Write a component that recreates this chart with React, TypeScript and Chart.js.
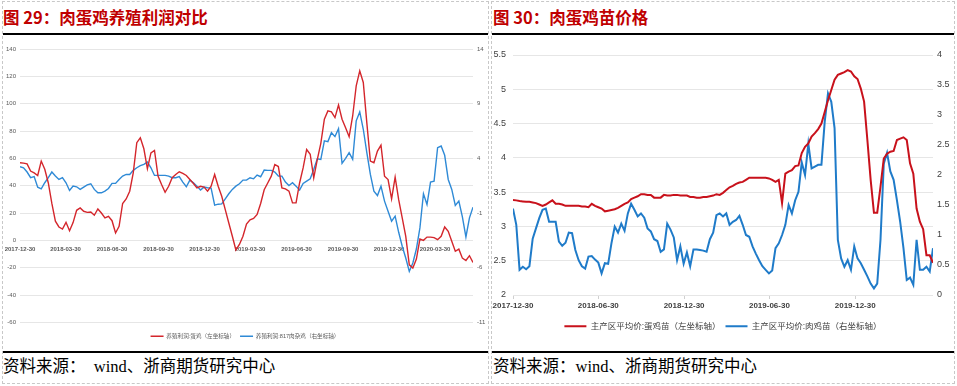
import React, { useEffect, useRef } from 'react';
import { Chart, registerables } from 'chart.js';

Chart.register(...registerables);

// ---------- data ----------
const START_DATE = '2017-12-30';
const WEEK_DAYS = 7;
const X_MAX_DAYS = 896;

// Figure 29
const profitDateTicks = [
  '2017-12-30', '2018-03-30', '2018-06-30', '2018-09-30', '2018-12-30',
  '2019-03-30', '2019-06-30', '2019-09-30', '2019-12-30', '2020-03-30',
];
const profitLeftTicks = [-60, -40, -20, 0, 20, 40, 60, 80, 100, 120, 140];
const profitRightTicks = [-11, -6, -1, 4, 9, 14];

const eggProfit = [
  56.8, 56.5, 56, 50.7, 49.4, 47.5, 58, 52, 42, 27,
  14, 9.8, 8.3, 13.2, 7, 13, 22, 23.7, 21.3, 20.5,
  20.8, 18.4, 23, 20, 16.4, 17.6, 14.4, 5.4, 10.3, 27,
  30.3, 36, 49.4, 71.5, 75.1, 67, 52.4, 64, 65.8, 47,
  40.9, 35.2, 39.6, 45.8, 48.2, 50.2, 49, 47.5, 44.5, 41.6,
  38.4, 39.6, 39, 36, 39.6, 48.2, 39.6, 32.3, 22.5, 12.7,
  3, -7, -3, 3, 12, 15, 16, 19, 27, 37,
  42, 47, 55.5, 54, 38.4, 37.7, 36, 27.4, 27.4, 42,
  53, 66.5, 63, 45.7, 59, 71, 88.6, 94.7, 94, 89.8,
  99, 88.6, 82.4, 75.8, 91, 113, 124, 115.5, 86, 58,
  56.8, 65.3, 69.7, 47, 44.5, 30.3, 46.2, 29.8, 16.4, 2.9,
  -17.9, -20.3, -13.7, 1, 0, 2.4, 2.4, 2, 0.5, 3,
  9.8, 6.6, -0.7, -8, -6.4, -13, -14.7, -11.2, -16.1,
];

const broilerProfit = [
  3.24, 3.14, 2.75, 2.23, 2.33, 1.37, 1.22, 1.77, 2.23, 2.75,
  2.38, 2.07, 2.23, 1.77, 1.06, 1.46, 1.4, 1.16, 1.37, 1.58,
  1.68, 1.16, 0.85, 0.85, 1.0, 1.25, 1.71, 1.71, 2.07, 2.38,
  2.53, 2.53, 2.9, 3.14, 3.33, 3.45, 3.66, 3.14, 2.44, 2.44,
  2.44, 2.44, 2.38, 2.23, 2.23, 2.33, 1.83, 1.4, 2.01, 1.77,
  1.46, 1.1, 1.37, 1.31, 1.28, -0.28, -0.19, -0.16, 0.3, 0.76,
  1.16, 1.46, 1.68, 2.01, 2.01, 2.23, 2.13, 2.47, 2.32, 2.93,
  2.9, 2.9, 2.75, 2.38, 2.38, 1.83, 1.52, 1.77, 1.46, 1.1,
  1.71, 1.92, 2.13, 2.99, 3.97, 3.91, 5.6, 5.53, 6.35, 5.99,
  6.72, 3.54, 4.0, 4.52, 3.91, 7.43, 8.25, 6.66, 4.52, 2.53,
  1.0, 0.6, 1.46, 0.09, -0.83, -1.75, -1.29, -2.76, -4.04, -5.11,
  -6.34, -5.57, -4.29, -2.36, 0.76, -0.22, 1.83, 1.92, 4.98, 5.13,
  4.28, 2.07, 1.16, -0.31, 0.09, -1.35, -3.19, -1.44, -0.46,
];

// Figure 30
const priceDateTicks = ['2017-12-30', '2018-06-30', '2018-12-30', '2019-06-30', '2019-12-30'];
const priceLeftTicks = [2, 2.5, 3, 3.5, 4, 4.5, 5, 5.5];
const priceRightTicks = [0, 0.5, 1, 1.5, 2, 2.5, 3, 3.5, 4];

const eggChickPrice = [
  3.385, 3.38, 3.37, 3.365, 3.36, 3.36, 3.35, 3.34, 3.32, 3.3,
  3.32, 3.35, 3.38, 3.33, 3.33, 3.32, 3.3, 3.3, 3.3, 3.3,
  3.3, 3.29, 3.29, 3.28, 3.33, 3.3, 3.28, 3.26, 3.22, 3.23,
  3.24, 3.25, 3.27, 3.3, 3.33, 3.35, 3.4, 3.42, 3.44, 3.47,
  3.47, 3.46, 3.46, 3.42, 3.42, 3.42, 3.46, 3.45, 3.45, 3.46,
  3.46, 3.45, 3.45, 3.45, 3.43, 3.43, 3.42, 3.42, 3.43, 3.43,
  3.44, 3.45, 3.47, 3.46, 3.49, 3.53, 3.57, 3.59, 3.62, 3.64,
  3.65, 3.68, 3.71, 3.71, 3.71, 3.71, 3.71, 3.71, 3.7, 3.68,
  3.65, 3.68, 3.34, 3.77, 3.8, 3.82, 3.88, 3.89, 4.07, 4.16,
  4.21, 4.31, 4.36, 4.42, 4.5, 4.67, 4.84, 4.99, 5.14, 5.21,
  5.23, 5.25, 5.28, 5.26, 5.19, 5.15, 5.01, 4.82, 4.26, 3.68,
  3.2, 3.2, 3.58, 3.99, 4.06, 4.09, 4.1, 4.26, 4.28, 4.3,
  4.26, 3.92, 3.77, 3.26, 3.07, 2.96, 2.58, 2.58, 2.47,
];

const broilerChickPrice = [
  1.44, 1.17, 0.42, 0.47, 0.43, 0.48, 0.94, 1.11, 1.28, 1.42,
  1.44, 1.22, 1.22, 1.22, 0.89, 0.82, 0.87, 1.04, 1.03, 0.75,
  0.58, 0.48, 0.44, 0.64, 0.65, 0.59, 0.54, 0.36, 0.53, 0.52,
  0.86, 1.14, 1.04, 1.19, 1.07, 1.36, 1.52, 1.42, 1.31, 1.36,
  1.29, 1.11, 1.06, 0.93, 0.9, 0.72, 0.76, 1.19, 1.09, 0.96,
  0.58, 0.81, 0.52, 0.71, 0.48, 0.76, 0.76, 0.75, 0.74, 0.72,
  0.93, 1.04, 1.33, 1.36, 1.31, 1.36, 1.17, 1.22, 1.25, 1.32,
  1.17, 1.0, 0.97, 0.81, 0.69, 0.58, 0.48, 0.42, 0.36, 0.41,
  0.78, 0.86, 1.0, 1.17, 1.5, 1.36, 1.58, 1.72, 2.21, 2.0,
  2.52, 2.11, 2.14, 2.17, 2.17, 2.89, 3.36, 3.22, 2.78, 0.92,
  0.61, 0.47, 0.58, 0.42, 0.81, 0.61, 0.53, 0.42, 0.31, 0.19,
  0.11, 0.19, 0.92, 2.19, 2.37, 2.06, 1.92, 1.58, 1.22, 0.78,
  0.25, 0.29, 0.17, 0.92, 0.42, 0.42, 0.47, 0.39, 0.78,
];

// ---------- helpers ----------
const FONT = '"Liberation Sans", "Noto Sans CJK SC", Arial, sans-serif';

function dayOffset(label: string): number {
  return Math.round((Date.parse(label) - Date.parse(START_DATE)) / 86400000);
}

function weekly(values: number[]) {
  return values.map((v, i) => ({ x: i * WEEK_DAYS, y: v }));
}

function fixedTicks(values: number[]) {
  return (scale: any) => {
    scale.ticks = values.map((v) => ({ value: v }));
  };
}

function fixedWidth(w: number) {
  return (scale: any) => {
    scale.width = w;
    scale.paddingTop = 0;
    scale.paddingBottom = 0;
  };
}

function fixedHeight(h: number) {
  return (scale: any) => {
    scale.height = h;
    scale.paddingLeft = 0;
    scale.paddingRight = 0;
  };
}

const plainNumber = (v: any) => String(v);

function useChart(ref: React.RefObject<HTMLCanvasElement>, build: () => any) {
  useEffect(() => {
    if (!ref.current) return;
    const chart = new Chart(ref.current, build());
    return () => chart.destroy();
  }, []);
}

// ---------- charts ----------
function ProfitChart() {
  const ref = useRef<HTMLCanvasElement>(null);
  useChart(ref, () => {
    const tickColor = '#595959';
    return {
      type: 'line',
      data: {
        datasets: [
          {
            label: '养殖利润:蛋鸡（左坐标轴）',
            data: weekly(eggProfit),
            borderColor: '#d4262c',
            backgroundColor: '#d4262c',
            borderWidth: 1.4,
            pointRadius: 0,
            tension: 0,
            yAxisID: 'y',
          },
          {
            label: '养殖利润:817肉杂鸡（右坐标轴）',
            data: weekly(broilerProfit),
            borderColor: '#2f8ad6',
            backgroundColor: '#2f8ad6',
            borderWidth: 1.4,
            pointRadius: 0,
            tension: 0,
            yAxisID: 'y1',
          },
        ],
      },
      options: {
        animation: false,
        responsive: false,
        events: [],
        layout: { padding: { top: 13, left: 0, right: 0, bottom: 0 } },
        plugins: {
          tooltip: { enabled: false },
          legend: {
            position: 'bottom',
            title: { display: true, text: ' ', padding: 0, font: { size: 6, lineHeight: 1 } },
            labels: {
              usePointStyle: true,
              pointStyle: 'line',
              pointStyleWidth: 13,
              padding: 5,
              color: tickColor,
              font: { size: 5.6, family: FONT },
            },
          },
        },
        scales: {
          x: {
            type: 'linear',
            position: { y: 0 },
            min: 0,
            max: X_MAX_DAYS,
            grid: { display: false, drawTicks: false },
            border: { display: false },
            afterBuildTicks: fixedTicks(profitDateTicks.map(dayOffset)),
            afterFit: fixedHeight(0),
            ticks: {
              autoSkip: false,
              maxRotation: 0,
              padding: 5,
              color: tickColor,
              font: { size: 6, weight: 'bold', family: FONT },
              callback: (_v: any, i: number) => profitDateTicks[i],
            },
          },
          y: {
            position: 'left',
            min: -60,
            max: 140,
            afterBuildTicks: fixedTicks(profitLeftTicks),
            afterFit: fixedWidth(17),
            grid: { color: '#e6e6e6', drawTicks: false },
            border: { display: false },
            ticks: { padding: 4, color: tickColor, font: { size: 6, family: FONT }, callback: plainNumber },
          },
          y1: {
            position: 'right',
            min: -11,
            max: 14,
            afterBuildTicks: fixedTicks(profitRightTicks),
            afterFit: fixedWidth(14),
            grid: { display: false, drawTicks: false },
            border: { display: false },
            ticks: { padding: 4, color: tickColor, font: { size: 6, family: FONT }, callback: plainNumber },
          },
        },
      },
    };
  });
  return <canvas ref={ref} width={484} height={313} style={{ position: 'absolute', left: 3, top: 36, width: 484, height: 313 }} />;
}

function PriceChart() {
  const ref = useRef<HTMLCanvasElement>(null);
  useChart(ref, () => {
    const tickColor = '#404040';
    return {
      type: 'line',
      data: {
        datasets: [
          {
            label: '主产区平均价:蛋鸡苗（左坐标轴）',
            data: weekly(eggChickPrice),
            borderColor: '#c8111b',
            backgroundColor: '#c8111b',
            borderWidth: 2,
            pointRadius: 0,
            tension: 0,
            yAxisID: 'y',
          },
          {
            label: '主产区平均价:肉鸡苗（右坐标轴）',
            data: weekly(broilerChickPrice),
            borderColor: '#1f7bc9',
            backgroundColor: '#1f7bc9',
            borderWidth: 2,
            pointRadius: 0,
            tension: 0,
            yAxisID: 'y1',
          },
        ],
      },
      options: {
        animation: false,
        responsive: false,
        events: [],
        layout: { padding: { top: 19, left: 0, right: 0, bottom: 8.5 } },
        plugins: {
          tooltip: { enabled: false },
          legend: {
            position: 'bottom',
            labels: {
              usePointStyle: true,
              pointStyle: 'line',
              pointStyleWidth: 22,
              padding: 5,
              color: tickColor,
              font: { size: 8.5, family: FONT },
            },
          },
        },
        scales: {
          x: {
            type: 'linear',
            position: 'bottom',
            min: 0,
            max: X_MAX_DAYS,
            grid: { display: true, drawOnChartArea: false, drawTicks: true, tickLength: 4, color: '#d0d0d0' },
            border: { display: false },
            afterBuildTicks: fixedTicks(priceDateTicks.map(dayOffset)),
            afterFit: fixedHeight(22),
            ticks: {
              autoSkip: false,
              maxRotation: 0,
              padding: 2,
              color: tickColor,
              font: { size: 8, weight: 'bold', family: FONT },
              callback: (_v: any, i: number) => priceDateTicks[i],
            },
          },
          y: {
            position: 'left',
            min: 2,
            max: 5.5,
            afterBuildTicks: fixedTicks(priceLeftTicks),
            afterFit: fixedWidth(21),
            grid: { color: '#e6e6e6', drawTicks: false },
            border: { display: false },
            ticks: { padding: 7, color: tickColor, font: { size: 9, family: FONT }, callback: plainNumber },
          },
          y1: {
            position: 'right',
            min: 0,
            max: 4,
            afterBuildTicks: fixedTicks(priceRightTicks),
            afterFit: fixedWidth(21),
            grid: { display: false, drawTicks: false },
            border: { display: false },
            ticks: { padding: 4, color: tickColor, font: { size: 9, family: FONT }, callback: plainNumber },
          },
        },
      },
    };
  });
  return <canvas ref={ref} width={462} height={313} style={{ position: 'absolute', left: 492, top: 36, width: 462, height: 313 }} />;
}

// ---------- layout ----------
const titleStyle: React.CSSProperties = {
  position: 'absolute',
  top: 8,
  fontFamily: '"Noto Sans CJK SC", sans-serif',
  fontWeight: 700,
  fontSize: 16.5,
  lineHeight: '18px',
  color: '#c00000',
  whiteSpace: 'nowrap',
};

const sourceStyle: React.CSSProperties = {
  position: 'absolute',
  top: 358,
  fontFamily: '"Liberation Serif", "Noto Sans CJK SC", serif',
  fontSize: 16.5,
  lineHeight: '18px',
  color: '#000',
  whiteSpace: 'pre',
};

function rule(left: number, top: number, width: number, height: number): React.CSSProperties {
  return { position: 'absolute', left, top, width, height, background: '#000' };
}

export default function App() {
  return (
    <div style={{ position: 'fixed', left: 0, top: 0, width: 957, height: 386, background: '#fff', overflow: 'hidden' }}>
      <div style={{ position: 'absolute', left: 2, top: 1, width: 487, height: 383, boxSizing: 'border-box', border: '1px dashed #c8c8c8' }} />
      <div style={{ position: 'absolute', left: 491, top: 1, width: 464, height: 383, boxSizing: 'border-box', border: '1px dashed #c8c8c8' }} />

      <div style={{ ...titleStyle, left: 3 }}>图 29：肉蛋鸡养殖利润对比</div>
      <div style={rule(3, 33, 485, 1.5)} />
      <ProfitChart />
      <div style={rule(3, 351, 485, 1.5)} />
      <div style={{ ...sourceStyle, left: 3 }}>{'资料来源：  wind、浙商期货研究中心'}</div>

      <div style={{ ...titleStyle, left: 493 }}>图 30：肉蛋鸡苗价格</div>
      <div style={rule(492, 33, 462, 1.5)} />
      <PriceChart />
      <div style={rule(492, 351, 462, 1.5)} />
      <div style={{ ...sourceStyle, left: 493 }}>{'资料来源：wind、浙商期货研究中心'}</div>
    </div>
  );
}
